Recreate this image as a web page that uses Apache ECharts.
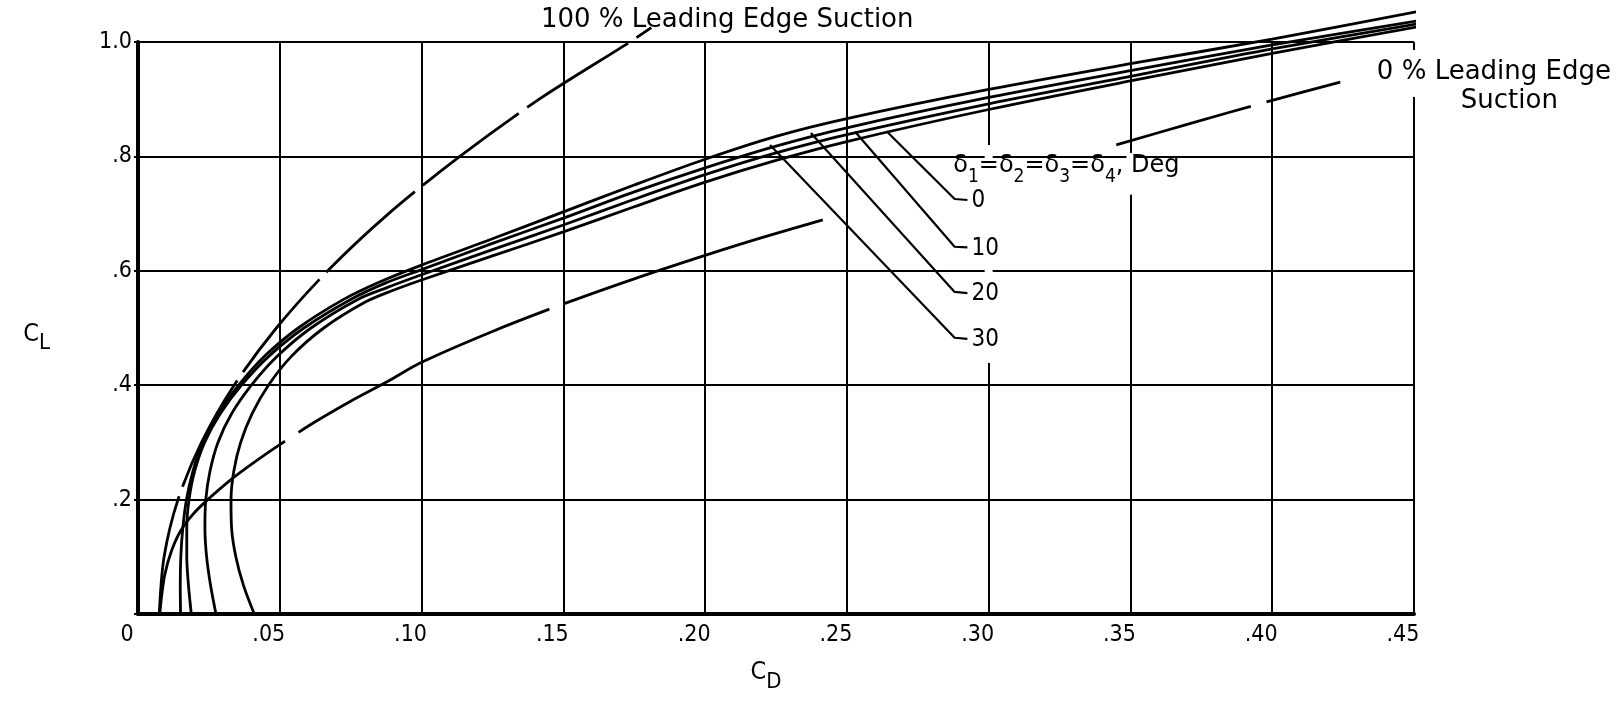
<!DOCTYPE html>
<html>
<head>
<meta charset="utf-8">
<script src="https://cdn.jsdelivr.net/npm/echarts@6/dist/echarts.min.js"></script>
<style>
  html, body { margin: 0; padding: 0; background: #fff; }
  #chart { width: 1623px; height: 718px; }
</style>
</head>
<body>
<div id="chart"></div>
<script>
// ---- tick labels ----
const xTickLabels = ['0', '.05', '.10', '.15', '.20', '.25', '.30', '.35', '.40', '.45'];
const yTickLabels = ['', '.2', '.4', '.6', '.8', '1.0'];

// ---- drag polars, points are [C_D, C_L] ----
// flap deflection delta1 = delta2 = delta3 = delta4 = 0 deg
const polarDeg0 = [
  [0.0150, 0], [0.0149, 0.05], [0.0151, 0.10], [0.0158, 0.15], [0.0171, 0.20],
  [0.0194, 0.25], [0.0228, 0.30], [0.0282, 0.35], [0.0355, 0.40], [0.0445, 0.45],
  [0.0565, 0.50], [0.0725, 0.55], [0.0850, 0.580], [0.1000, 0.610], [0.1250, 0.656],
  [0.1500, 0.703], [0.1750, 0.750], [0.2000, 0.795], [0.2250, 0.835], [0.2500, 0.866],
  [0.3000, 0.917], [0.3500, 0.962], [0.4000, 1.005], [0.4510, 1.053]
];
// 10 deg
const polarDeg10 = [
  [0.0188, 0], [0.0178, 0.05], [0.0172, 0.10], [0.0172, 0.15], [0.0180, 0.20],
  [0.0200, 0.25], [0.0235, 0.30], [0.0290, 0.35], [0.0365, 0.40], [0.0460, 0.45],
  [0.0585, 0.50], [0.0750, 0.55], [0.0870, 0.578], [0.1000, 0.602], [0.1250, 0.648],
  [0.1500, 0.692], [0.1750, 0.738], [0.2000, 0.780], [0.2250, 0.818], [0.2500, 0.850],
  [0.3000, 0.903], [0.3500, 0.950], [0.4000, 0.995], [0.4550, 1.040]
];
// 20 deg
const polarDeg20 = [
  [0.0275, 0], [0.0256, 0.05], [0.0242, 0.10], [0.0236, 0.15], [0.0239, 0.20],
  [0.0254, 0.25], [0.0282, 0.30], [0.0330, 0.35], [0.0400, 0.40], [0.0490, 0.45],
  [0.0610, 0.50], [0.0775, 0.55], [0.0880, 0.571], [0.1000, 0.593], [0.1250, 0.637],
  [0.1500, 0.680], [0.1750, 0.725], [0.2000, 0.768], [0.2250, 0.806], [0.2500, 0.838],
  [0.3000, 0.892], [0.3500, 0.940], [0.4000, 0.988], [0.4550, 1.035]
];
// 30 deg
const polarDeg30 = [
  [0.0410, 0], [0.0372, 0.05], [0.0345, 0.10], [0.0330, 0.15], [0.0328, 0.20],
  [0.0338, 0.25], [0.0362, 0.30], [0.0402, 0.35], [0.0460, 0.40], [0.0540, 0.45],
  [0.0655, 0.50], [0.0800, 0.545], [0.0900, 0.566], [0.1000, 0.584], [0.1250, 0.626],
  [0.1500, 0.668], [0.1750, 0.712], [0.2000, 0.755], [0.2250, 0.793], [0.2500, 0.826],
  [0.3000, 0.882], [0.3500, 0.932], [0.4000, 0.980], [0.4550, 1.030]
];
// theoretical limits
const fullSuction = [
  [0.0075, 0], [0.0092, 0.10], [0.0141, 0.20], [0.0224, 0.30], [0.0339, 0.40],
  [0.0488, 0.50], [0.0669, 0.60], [0.0884, 0.70], [0.1135, 0.80], [0.1415, 0.90],
  [0.1735, 1.00], [0.1810, 1.025]
];
// zero suction line, drawn in two pieces either side of the deflection lettering
const zeroSuctionLow = [
  [0.0077, 0], [0.0083, 0.03], [0.0095, 0.07], [0.0118, 0.11], [0.0150, 0.145],
  [0.0195, 0.175], [0.0246, 0.200], [0.0328, 0.235], [0.0418, 0.268], [0.0500, 0.296],
  [0.0625, 0.336], [0.0750, 0.372], [0.0875, 0.405], [0.1000, 0.440], [0.1250, 0.494],
  [0.1500, 0.542], [0.1750, 0.586], [0.2000, 0.627], [0.2200, 0.658], [0.2415, 0.689]
];
const zeroSuctionHigh = [
  [0.3450, 0.820], [0.3700, 0.856], [0.4000, 0.898], [0.4240, 0.930]
];

// leader lines from the deflection labels to their curves
const deflectionLabels = ['0', '10', '20', '30'];
const leaderPaths = [
  [[0.2640, 0.844], [0.2880, 0.7255], [0.2925, 0.7238]],
  [[0.2529, 0.843], [0.2880, 0.642], [0.2925, 0.641]],
  [[0.2373, 0.841], [0.2880, 0.563], [0.2925, 0.561]],
  [[0.2229, 0.820], [0.2880, 0.483], [0.2925, 0.481]]
];

// gridline interruptions kept clear around the lettering: [C_D, C_L from, C_L to]
const gridBreaks = [
  [0.30, 0.439, 0.820],
  [0.35, 0.733, 0.806],
  [0.45, 0.904, 0.986]
];

// free lettering anchored in chart units [C_D, C_L] (left, middle)
const noteTexts = ['100 % Leading Edge Suction', '0 % Leading Edge', 'Suction'];
const noteAnchors = [[0.1421, 1.0385], [0.4369, 0.9476], [0.4665, 0.8960]];
const deltaAnchor = [0.2875, 0.7760];

const TICK_FONT = '"DejaVu Sans Condensed", "Liberation Sans Narrow", "DejaVu Sans", sans-serif';
const NOTE_FONT = '"DejaVu Sans", "Liberation Sans", sans-serif';

const chart = echarts.init(document.getElementById('chart'), null, { renderer: 'canvas' });

function polarSeries(name, data, dash, dashOffset) {
  return {
    type: 'line', name: name, data: data,
    symbol: 'none', showSymbol: false, smooth: 0.3, clip: false,
    animation: false, silent: true, z: 3,
    lineStyle: { color: '#000', width: 2.8, type: dash || 'solid', dashOffset: dashOffset || 0, cap: 'butt' }
  };
}

const series = [
  polarSeries('0', polarDeg0),
  polarSeries('10', polarDeg10),
  polarSeries('20', polarDeg20),
  polarSeries('30', polarDeg30),
  polarSeries('100 % Leading Edge Suction', fullSuction, [120, 10]),
  polarSeries('0 % Leading Edge Suction', zeroSuctionLow, [280, 16], 55),
  polarSeries('0 % Leading Edge Suction', zeroSuctionHigh, [280, 16], 140)
];

leaderPaths.forEach(function (path) {
  series.push({
    type: 'line', data: path, symbol: 'none', showSymbol: false, clip: false,
    animation: false, silent: true, z: 4,
    lineStyle: { color: '#000', width: 2.2 }
  });
});

const subRich = function () {
  return {
    c: { fontFamily: TICK_FONT, fontSize: 25, color: '#000', verticalAlign: 'top' },
    s: { fontFamily: TICK_FONT, fontSize: 22, color: '#000', verticalAlign: 'top', padding: [11, 0, 0, 0] }
  };
};

chart.setOption({
  animation: false,
  backgroundColor: '#fff',
  grid: { left: 138, right: 209, top: 42, bottom: 104 },
  xAxis: {
    type: 'value', min: 0, max: 0.45, interval: 0.05,
    name: '{c|C}{s|D}', nameLocation: 'middle', nameGap: 46,
    nameTextStyle: { padding: [0, 20, 0, 0], rich: subRich() },
    axisLine: { show: true, onZero: false, lineStyle: { color: '#000', width: 4 } },
    axisTick: { show: false },
    splitLine: { show: true, lineStyle: { color: '#000', width: 2 } },
    axisLabel: {
      margin: 10, fontFamily: TICK_FONT, fontSize: 23, color: '#000',
      padding: [0, 22, 0, 0],
      formatter: function (v) { return xTickLabels[Math.round(v / 0.05)]; }
    }
  },
  yAxis: {
    type: 'value', min: 0, max: 1.0, interval: 0.2,
    name: '{c|C}{s|L}', nameLocation: 'middle', nameRotate: 0, nameGap: 88,
    nameTextStyle: { padding: [20, 0, 0, 0], rich: subRich() },
    axisLine: { show: true, onZero: false, lineStyle: { color: '#000', width: 4 } },
    axisTick: { show: true, length: 4, lineStyle: { color: '#000', width: 2 } },
    splitLine: { show: true, lineStyle: { color: '#000', width: 2 } },
    axisLabel: {
      margin: 6, fontFamily: TICK_FONT, fontSize: 23, color: '#000',
      formatter: function (v) { return yTickLabels[Math.round(v / 0.2)]; }
    }
  },
  series: series
});

// lettering and gridline breaks, placed through the axis scales
function px(p) { return chart.convertToPixel({ gridIndex: 0 }, p); }

const elements = [];
gridBreaks.forEach(function (b) {
  const top = px([b[0], b[2]]);
  const bot = px([b[0], b[1]]);
  elements.push({
    type: 'rect', z: 1, silent: true,
    shape: { x: top[0] - 4, y: top[1], width: 8, height: bot[1] - top[1] },
    style: { fill: '#fff' }
  });
});

function textEl(p, text, font, extra) {
  const style = {
    text: text, fill: '#000', font: font,
    align: 'left', verticalAlign: 'middle', textAlign: 'left', textVerticalAlign: 'middle'
  };
  if (extra) Object.assign(style, extra);
  return { type: 'text', x: p[0], y: p[1], z: 5, silent: true, style: style };
}

noteTexts.forEach(function (t, i) {
  elements.push(textEl(px(noteAnchors[i]), t, '26px ' + NOTE_FONT));
});

leaderPaths.forEach(function (path, i) {
  const end = px(path[path.length - 1]);
  elements.push(textEl([end[0] + 4, end[1] + 1], deflectionLabels[i], '24px ' + TICK_FONT));
});

elements.push(textEl(px(deltaAnchor), '{m|δ}{s|1}{m|=δ}{s|2}{m|=δ}{s|3}{m|=δ}{s|4}{m|, Deg}', null, {
  font: undefined,
  rich: {
    m: { fontFamily: NOTE_FONT, fontSize: 24, fill: '#000', color: '#000', verticalAlign: 'top' },
    s: { fontFamily: TICK_FONT, fontSize: 19, fill: '#000', color: '#000', verticalAlign: 'top', padding: [13, 0, 0, 0] }
  }
}));

chart.setOption({ graphic: { elements: elements } });
</script>
</body>
</html>
